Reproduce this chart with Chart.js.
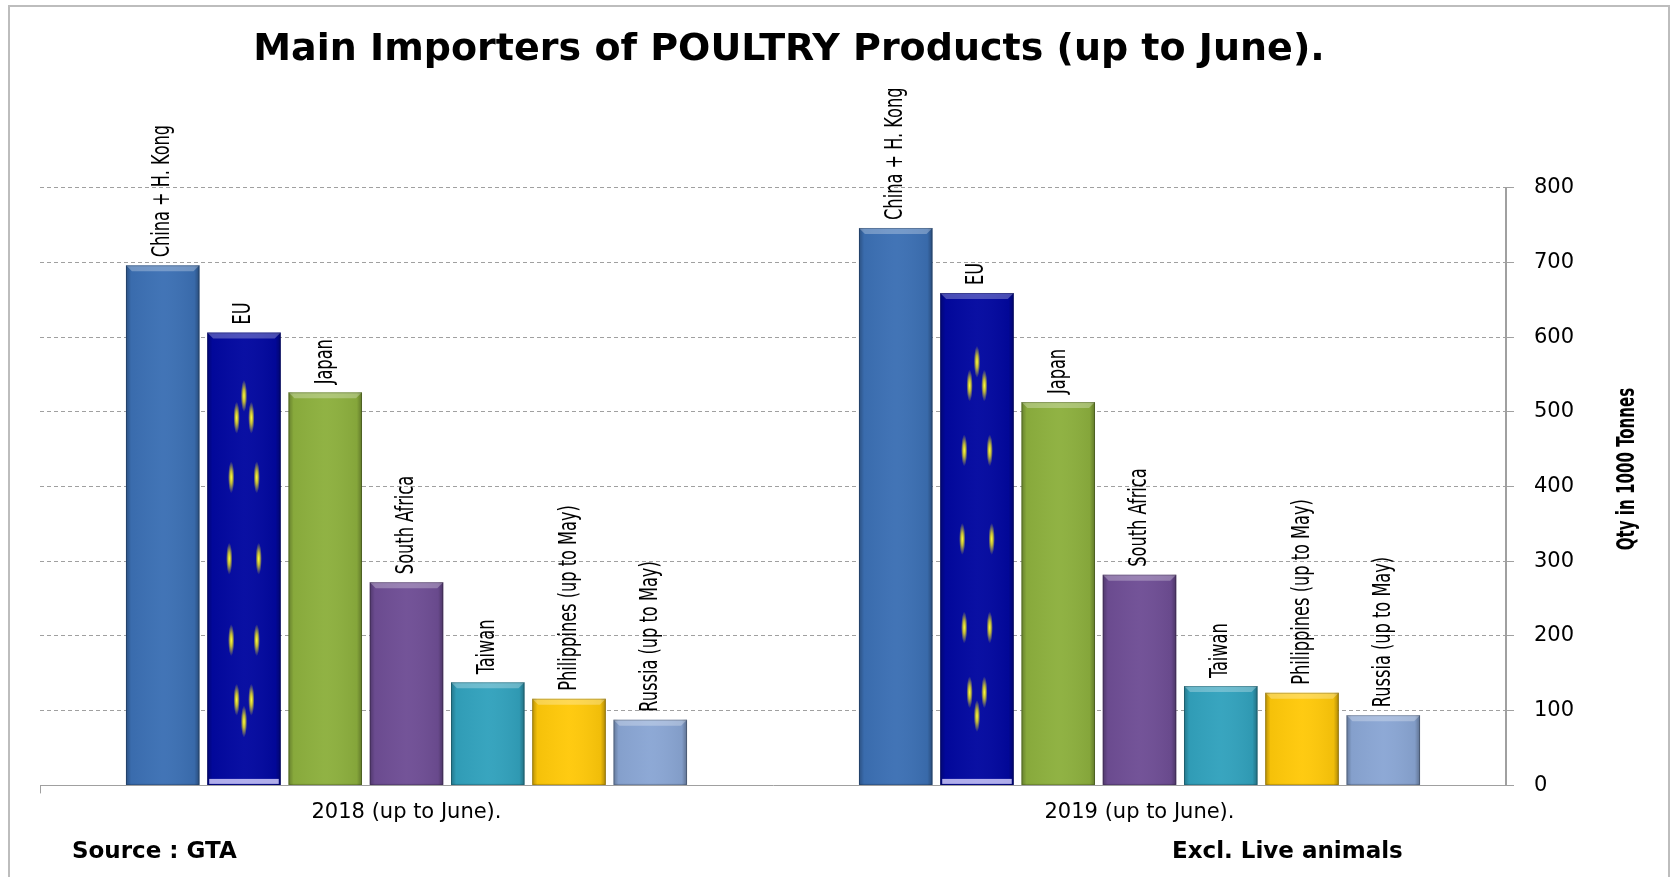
<!DOCTYPE html>
<html>
<head>
<meta charset="utf-8">
<script src="https://cdn.jsdelivr.net/npm/chart.js"></script>
<style>
  html, body { margin: 0; padding: 0; background: #fff; }
  #wrap { width: 1671px; height: 877px; position: relative; }
</style>
</head>
<body>
<div id="wrap"><canvas id="poultryChart" width="1671" height="877"></canvas></div>
<script>
  // periods on the x axis
  const periods = ["2018 (up to June).", "2019 (up to June)."];

  // importers (one dataset each), values in 1000 tonnes
  const importers = [
    "China + H. Kong",
    "EU",
    "Japan",
    "South Africa",
    "Taiwan",
    "Philippines (up to May)",
    "Russia (up to May)",
  ];
  const china = [696, 746];
  const eu = [606, 659];
  const japan = [526, 513];
  const southAfrica = [272, 282];
  const taiwan = [138, 133];
  const philippines = [116, 124];
  const russia = [88, 94];

  const yTicks = [0, 100, 200, 300, 400, 500, 600, 700, 800];

  const barColors = [
    "#3c70b4",
    "#0208a0",
    "#8db03e",
    "#6f4e95",
    "#32a2bd",
    "#ffc90a",
    "#8aa6d4",
  ];

  const seriesValues = [china, eu, japan, southAfrica, taiwan, philippines, russia];

  const narrow = '"Liberation Sans Narrow", "DejaVu Sans Condensed", "DejaVu Sans", sans-serif';
  const wide = '"DejaVu Sans", Verdana, sans-serif';

  // bevel + shadow look of the bars, and the EU stars
  const bevelPlugin = {
    id: "bevel",
    afterDatasetsDraw(chart) {
      const ctx = chart.ctx;
      chart.data.datasets.forEach((ds, di) => {
        const meta = chart.getDatasetMeta(di);
        meta.data.forEach((bar) => {
          const w = bar.width;
          const left = bar.x - w / 2;
          const right = bar.x + w / 2;
          const top = bar.y;
          const bottom = bar.base;
          ctx.save();
          // side shading
          const g = ctx.createLinearGradient(left, 0, right, 0);
          g.addColorStop(0, "rgba(0,0,0,0.28)");
          g.addColorStop(0.07, "rgba(0,0,0,0.04)");
          g.addColorStop(0.5, "rgba(255,255,255,0.03)");
          g.addColorStop(0.93, "rgba(0,0,0,0.06)");
          g.addColorStop(1, "rgba(0,0,0,0.32)");
          ctx.fillStyle = g;
          ctx.fillRect(left, top, w, bottom - top);
          // top bevel
          const b = 6;
          ctx.beginPath();
          ctx.moveTo(left, top);
          ctx.lineTo(right, top);
          ctx.lineTo(right - b, top + b);
          ctx.lineTo(left + b, top + b);
          ctx.closePath();
          ctx.fillStyle = "rgba(255,255,255,0.28)";
          ctx.fill();
          // outline
          ctx.strokeStyle = "rgba(0,0,0,0.22)";
          ctx.lineWidth = 1;
          ctx.strokeRect(left + 0.5, top + 0.5, w - 1, bottom - top - 1);
          // EU stars
          if (di === 1) {
            const cx = bar.x;
            const cy = top + (bottom - top) * 0.5;
            const rx = w * 0.2;
            const ry = (bottom - top) * 0.36;
            for (let k = 0; k < 12; k++) {
              const a = (k * Math.PI) / 6;
              const sx = cx + rx * Math.sin(a);
              const sy = cy - ry * Math.cos(a);
              ctx.save();
              ctx.translate(sx, sy);
              ctx.scale(0.2, 1);
              const rg = ctx.createRadialGradient(0, 0, 0, 0, 0, 16);
              rg.addColorStop(0, "rgba(255,255,60,1)");
              rg.addColorStop(0.4, "rgba(240,230,30,0.8)");
              rg.addColorStop(1, "rgba(240,230,30,0)");
              ctx.fillStyle = rg;
              ctx.beginPath();
              ctx.arc(0, 0, 16, 0, Math.PI * 2);
              ctx.fill();
              ctx.restore();
            }
            ctx.fillStyle = "rgba(220,215,255,0.8)";
            ctx.fillRect(left + 2, bottom - 6, w - 4, 5);
          }
          ctx.restore();
        });
      });
    },
  };

  // title, rotated labels above bars, extra texts and frame
  const labelPlugin = {
    id: "labels",
    afterDraw(chart) {
      const ctx = chart.ctx;
      ctx.save();
      ctx.fillStyle = "#000";

      ctx.font = "bold 38px " + wide;
      ctx.textAlign = "center";
      ctx.textBaseline = "middle";
      ctx.fillText("Main Importers of POULTRY Products (up to June).", 789, 50);

      ctx.font = "25px " + narrow;
      ctx.textAlign = "left";
      chart.data.datasets.forEach((ds, di) => {
        const meta = chart.getDatasetMeta(di);
        meta.data.forEach((bar) => {
          ctx.save();
          ctx.translate(bar.x, bar.y - 8);
          ctx.rotate(-Math.PI / 2);
          ctx.scale(0.72, 1);
          ctx.fillText(ds.label, 0, 0);
          ctx.restore();
        });
      });

      // y axis title
      ctx.save();
      ctx.font = "bold 25px " + narrow;
      ctx.textAlign = "center";
      ctx.translate(1627, 469);
      ctx.rotate(-Math.PI / 2);
      ctx.scale(0.67, 1);
      ctx.fillText("Qty in 1000 Tonnes", 0, 0);
      ctx.restore();

      ctx.font = "bold 23px " + wide;
      ctx.textAlign = "left";
      ctx.fillText("Source : GTA", 72, 852);
      ctx.fillText("Excl. Live animals", 1172, 852);

      // small tick at left end of x axis
      const ca = chart.chartArea;
      ctx.strokeStyle = "#a0a0a0";
      ctx.lineWidth = 1;
      ctx.beginPath();
      ctx.moveTo(ca.left + 0.5, ca.bottom);
      ctx.lineTo(ca.left + 0.5, ca.bottom + 8);
      ctx.stroke();

      // outer frame
      ctx.strokeStyle = "#bdbdbd";
      ctx.lineWidth = 2;
      ctx.strokeRect(9, 6, 1660, 900);
      ctx.restore();
    },
  };

  const datasets = importers.map((name, i) => ({
    label: name,
    data: seriesValues[i],
    backgroundColor: barColors[i],
    borderWidth: 0,
    categoryPercentage: 0.776,
    barPercentage: 0.905,
  }));

  new Chart(document.getElementById("poultryChart").getContext("2d"), {
    type: "bar",
    data: { labels: periods, datasets: datasets },
    plugins: [bevelPlugin, labelPlugin],
    options: {
      responsive: false,
      animation: false,
      layout: { padding: { left: 40, right: 0, top: 187.6, bottom: 0 } },
      plugins: {
        legend: { display: false },
        tooltip: { enabled: false },
        title: { display: false },
      },
      scales: {
        x: {
          grid: { display: false, drawTicks: false },
          border: { display: true, color: "#a0a0a0", width: 1 },
          ticks: {
            color: "#000",
            padding: 15,
            font: { family: wide, size: 21 },
          },
          afterFit(scale) {
            scale.height = 91.6;
          },
        },
        y: {
          position: "right",
          min: 0,
          max: 800,
          afterBuildTicks(scale) {
            scale.ticks = yTicks.map((v) => ({ value: v }));
          },
          grid: {
            color: "#a0a0a0",
            lineWidth: 1,
            drawTicks: true,
            tickLength: 8,
            tickColor: "#a0a0a0",
          },
          border: { display: true, color: "#a0a0a0", width: 2, dash: [4, 3] },
          ticks: {
            color: "#000",
            padding: 20,
            font: { family: wide, size: 21 },
          },
          afterFit(scale) {
            scale.width = 165;
          },
        },
      },
    },
  });
</script>
</body>
</html>
